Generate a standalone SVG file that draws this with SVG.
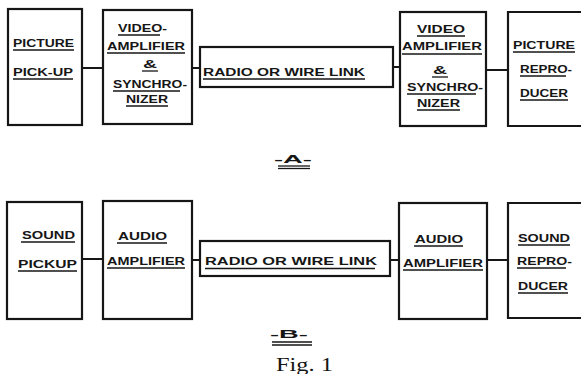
<svg xmlns="http://www.w3.org/2000/svg" width="581" height="374" viewBox="0 0 581 374">
<style>
.b{fill:none;stroke:#161616;stroke-width:2.2}
.c{stroke:#161616;stroke-width:2;fill:none}
.t{font-family:"Liberation Sans",Arial,sans-serif;font-weight:bold;font-size:11px;fill:#161616;text-anchor:start}
.u{stroke:#161616;stroke-width:1.3}
</style>
<rect width="581" height="374" fill="#fff"/>
<g id="connectors">
<line class="c" x1="82" y1="68" x2="103" y2="68"/>
<line class="c" x1="192" y1="68" x2="200" y2="68"/>
<line class="c" x1="393" y1="67" x2="400" y2="67"/>
<line class="c" x1="486" y1="70" x2="508" y2="70"/>
<line class="c" x1="82" y1="259" x2="103" y2="259"/>
<line class="c" x1="192" y1="260" x2="200" y2="260"/>
<line class="c" x1="390" y1="260" x2="399" y2="260"/>
<line class="c" x1="487" y1="260" x2="508" y2="260"/>
</g>
<g id="picture-pickup">
<rect class="b" x="8" y="9" width="74" height="116"/>
<text class="t" x="13" y="47" textLength="61" lengthAdjust="spacingAndGlyphs">PICTURE</text>
<line class="u" x1="13" y1="50" x2="74" y2="50"/>
<text class="t" x="13" y="76" textLength="60" lengthAdjust="spacingAndGlyphs">PICK-UP</text>
<line class="u" x1="13" y1="79" x2="73" y2="79"/>
</g>
<g id="video-amp-a">
<rect class="b" x="103" y="10" width="89" height="114"/>
<text class="t" x="118" y="32" textLength="49" lengthAdjust="spacingAndGlyphs">VIDEO-</text>
<line class="u" x1="118" y1="35" x2="160" y2="35"/>
<text class="t" x="107" y="50" textLength="78" lengthAdjust="spacingAndGlyphs">AMPLIFIER</text>
<line class="u" x1="107" y1="53" x2="185" y2="53"/>
<text class="t" x="143" y="68" textLength="14" lengthAdjust="spacingAndGlyphs">&amp;</text>
<line class="u" x1="142" y1="71" x2="158" y2="71"/>
<text class="t" x="113" y="88" textLength="74" lengthAdjust="spacingAndGlyphs">SYNCHRO-</text>
<line class="u" x1="113" y1="91" x2="180" y2="91"/>
<text class="t" x="126" y="103" textLength="42" lengthAdjust="spacingAndGlyphs">NIZER</text>
<line class="u" x1="126" y1="106" x2="168" y2="106"/>
</g>
<g id="link-a">
<rect class="b" x="200" y="47" width="193" height="40"/>
<text class="t" x="203" y="76" textLength="162" lengthAdjust="spacingAndGlyphs" fill="#333">RADIO OR WIRE LINK</text>
<line class="u" x1="203" y1="79" x2="365" y2="79" stroke="#666"/>
</g>
<g id="video-amp-b">
<rect class="b" x="400" y="12" width="86" height="114"/>
<text class="t" x="417" y="33" textLength="48" lengthAdjust="spacingAndGlyphs">VIDEO</text>
<line class="u" x1="417" y1="36" x2="465" y2="36"/>
<text class="t" x="402" y="50" textLength="80" lengthAdjust="spacingAndGlyphs">AMPLIFIER</text>
<line class="u" x1="402" y1="54" x2="482" y2="54"/>
<text class="t" x="433" y="74" textLength="14" lengthAdjust="spacingAndGlyphs">&amp;</text>
<line class="u" x1="432" y1="77" x2="448" y2="77"/>
<text class="t" x="407" y="91" textLength="76" lengthAdjust="spacingAndGlyphs">SYNCHRO-</text>
<line class="u" x1="407" y1="94" x2="476" y2="94"/>
<text class="t" x="417" y="107" textLength="43" lengthAdjust="spacingAndGlyphs">NIZER</text>
<line class="u" x1="417" y1="110" x2="460" y2="110"/>
</g>
<g id="picture-reproducer">
<path class="b" d="M582 12 H508 V126 H582"/>
<text class="t" x="513" y="49" textLength="62" lengthAdjust="spacingAndGlyphs">PICTURE</text>
<line class="u" x1="513" y1="52" x2="575" y2="52"/>
<text class="t" x="520" y="73" textLength="52" lengthAdjust="spacingAndGlyphs">REPRO-</text>
<line class="u" x1="520" y1="76" x2="566" y2="76"/>
<text class="t" x="520" y="97" textLength="48" lengthAdjust="spacingAndGlyphs">DUCER</text>
<line class="u" x1="520" y1="100" x2="568" y2="100"/>
</g>
<g id="label-a">
<text class="t" x="274" y="163" font-size="20" font-weight="normal" textLength="38" lengthAdjust="spacingAndGlyphs">-A-</text>
<line class="u" x1="278" y1="166" x2="310" y2="166"/>
<line class="u" x1="278" y1="168.5" x2="310" y2="168.5"/>
</g>
<g id="sound-pickup">
<rect class="b" x="7" y="202" width="75" height="117"/>
<text class="t" x="22" y="239" textLength="53" lengthAdjust="spacingAndGlyphs">SOUND</text>
<line class="u" x1="21" y1="242" x2="75" y2="242"/>
<text class="t" x="18" y="268" textLength="59" lengthAdjust="spacingAndGlyphs">PICKUP</text>
<line class="u" x1="18" y1="271" x2="77" y2="271"/>
</g>
<g id="audio-amp-a">
<rect class="b" x="103" y="201" width="89" height="118"/>
<text class="t" x="118" y="240" textLength="49" lengthAdjust="spacingAndGlyphs">AUDIO</text>
<line class="u" x1="117" y1="243" x2="167" y2="243"/>
<text class="t" x="107" y="265" textLength="78" lengthAdjust="spacingAndGlyphs">AMPLIFIER</text>
<line class="u" x1="107" y1="268" x2="185" y2="268"/>
</g>
<g id="link-b">
<rect class="b" x="200" y="241" width="190" height="35"/>
<text class="t" x="205" y="265" textLength="172" lengthAdjust="spacingAndGlyphs">RADIO OR WIRE LINK</text>
<line class="u" x1="205" y1="268.5" x2="375" y2="268.5"/>
</g>
<g id="audio-amp-b">
<rect class="b" x="399" y="203" width="88" height="116"/>
<text class="t" x="415" y="243" textLength="48" lengthAdjust="spacingAndGlyphs">AUDIO</text>
<line class="u" x1="414" y1="246" x2="463" y2="246"/>
<text class="t" x="403" y="267" textLength="80" lengthAdjust="spacingAndGlyphs">AMPLIFIER</text>
<line class="u" x1="403" y1="270" x2="483" y2="270"/>
</g>
<g id="sound-reproducer">
<path class="b" d="M582 203 H508 V318 H582"/>
<text class="t" x="518" y="242" textLength="52" lengthAdjust="spacingAndGlyphs">SOUND</text>
<line class="u" x1="518" y1="245" x2="570" y2="245"/>
<text class="t" x="517" y="265" textLength="55" lengthAdjust="spacingAndGlyphs">REPRO-</text>
<line class="u" x1="517" y1="268" x2="566" y2="268"/>
<text class="t" x="518" y="290" textLength="50" lengthAdjust="spacingAndGlyphs">DUCER</text>
<line class="u" x1="518" y1="293" x2="568" y2="293"/>
</g>
<g id="label-b">
<text class="t" x="270" y="338" font-size="20" font-weight="normal" textLength="38" lengthAdjust="spacingAndGlyphs">-B-</text>
<line class="u" x1="272" y1="342" x2="312" y2="342"/>
<line class="u" x1="272" y1="345" x2="312" y2="345"/>
<text x="276" y="371" font-family="Liberation Serif,'Times New Roman',serif" font-size="19" fill="#161616" textLength="57" lengthAdjust="spacingAndGlyphs">Fig. 1</text>
</g>
</svg>
